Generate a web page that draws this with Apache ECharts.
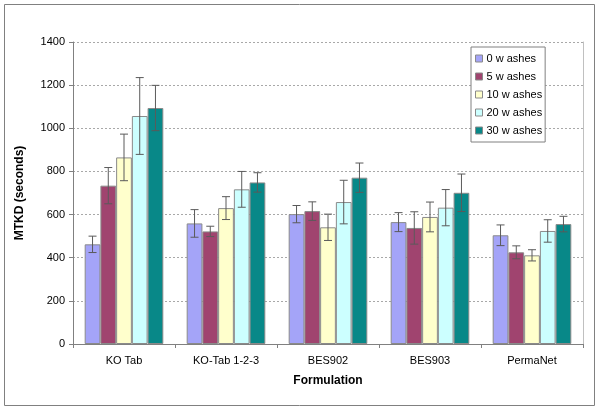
<!DOCTYPE html>
<html>
<head>
<meta charset="utf-8">
<script src="https://cdn.jsdelivr.net/npm/echarts@6/dist/echarts.min.js"></script>
<style>
html,body{margin:0;padding:0;background:#fff;}
#chart{width:600px;height:410px;}
</style>
</head>
<body>
<div id="chart"></div>
<script>
var categories = ['KO Tab', 'KO-Tab 1-2-3', 'BES902', 'BES903', 'PermaNet'];
var seriesNames = ['0 w ashes', '5 w ashes', '10 w ashes', '20 w ashes', '30 w ashes'];
var washes0  = [462, 559, 602, 565, 504];
var washes5  = [734, 522, 616, 538, 425];
var washes10 = [865, 630, 541, 589, 411];
var washes20 = [1057, 717, 658, 632, 524];
var washes30 = [1094, 749, 771, 701, 556];
var err0  = [38, 64, 40, 44, 48];
var err5  = [84, 24, 43, 75, 30];
var err10 = [108, 53, 61, 69, 26];
var err20 = [178, 83, 101, 84, 52];
var err30 = [105, 45, 68, 87, 36];
var yTicks = [0, 200, 400, 600, 800, 1000, 1200, 1400];

var values = [washes0, washes5, washes10, washes20, washes30];
var errors = [err0, err5, err10, err20, err30];
var colors = ['#a4a4f8', '#a0446f', '#ffffcc', '#ccffff', '#088888'];
var FONT = 'Liberation Sans, Arial, sans-serif';
var CAT_GAP = 0.229;

var chart = echarts.init(document.getElementById('chart'));

var series = [];
values.forEach(function (vals, i) {
  series.push({
    name: seriesNames[i],
    type: 'bar',
    data: vals,
    barGap: '0%',
    barCategoryGap: (CAT_GAP * 100) + '%',
    itemStyle: { color: colors[i], borderColor: '#8a8a8a', borderWidth: 1 },
    emphasis: { disabled: true },
    z: 2
  });
});
values.forEach(function (vals, i) {
  var data = vals.map(function (v, k) { return [k, v - errors[i][k], v + errors[i][k]]; });
  series.push({
    type: 'custom',
    name: seriesNames[i] + ' err',
    data: data,
    encode: { x: 0, y: [1, 2] },
    z: 5,
    silent: true,
    renderItem: function (params, api) {
      var cat = api.value(0);
      var lo = api.coord([cat, api.value(1)]);
      var hi = api.coord([cat, api.value(2)]);
      var catW = api.size([1, 0])[0];
      var bw = catW * (1 - CAT_GAP) / 5;
      var x = lo[0] + (i - 2) * bw;
      var cap = 4;
      var st = { stroke: '#5a5a5a', lineWidth: 1 };
      return {
        type: 'group',
        children: [
          { type: 'line', shape: { x1: x, y1: lo[1], x2: x, y2: hi[1] }, style: st },
          { type: 'line', shape: { x1: x - cap, y1: lo[1], x2: x + cap, y2: lo[1] }, style: st },
          { type: 'line', shape: { x1: x - cap, y1: hi[1], x2: x + cap, y2: hi[1] }, style: st }
        ]
      };
    }
  });
});

chart.setOption({
  animation: false,
  backgroundColor: '#ffffff',
  textStyle: { fontFamily: FONT },
  grid: { left: 73, right: 17, top: 42, bottom: 66, containLabel: false },
  legend: {
    data: seriesNames,
    orient: 'vertical',
    left: 471,
    top: 47,
    padding: [6, 3, 6, 4],
    itemWidth: 7,
    itemHeight: 7,
    itemGap: 7,
    backgroundColor: '#ffffff',
    borderColor: '#808080',
    borderWidth: 1,
    borderRadius: 0,
    icon: 'rect',
    textStyle: { fontFamily: FONT, fontSize: 11, color: '#000', padding: [0, 0, 0, -1] },
    itemStyle: { borderColor: '#8a8a8a', borderWidth: 1 }
  },
  xAxis: {
    type: 'category',
    data: categories,
    name: 'Formulation',
    nameLocation: 'middle',
    nameGap: 31,
    nameTextStyle: { fontFamily: FONT, fontSize: 12, fontWeight: 'bold', color: '#000' },
    axisLine: { lineStyle: { color: '#808080', width: 1 } },
    axisTick: { show: true, length: 4, lineStyle: { color: '#808080' } },
    axisLabel: { fontFamily: FONT, fontSize: 11, color: '#000', margin: 11 },
    splitLine: { show: false }
  },
  yAxis: [{
    type: 'value',
    min: yTicks[0],
    max: yTicks[yTicks.length - 1],
    interval: yTicks[1] - yTicks[0],
    name: 'MTKD (seconds)',
    nameLocation: 'middle',
    nameGap: 47,
    nameTextStyle: { fontFamily: FONT, fontSize: 12, fontWeight: 'bold', color: '#000' },
    axisLine: { show: true, lineStyle: { color: '#808080', width: 1 } },
    axisTick: { show: true, length: 4, lineStyle: { color: '#808080' } },
    axisLabel: { fontFamily: FONT, fontSize: 11, color: '#000', margin: 8,
      formatter: function (v) { return String(v); } },
    splitLine: { show: true, lineStyle: { color: '#a8a8a8', type: [2, 2], width: 1 } }
  }, {
    type: 'value',
    position: 'right',
    min: yTicks[0],
    max: yTicks[yTicks.length - 1],
    interval: yTicks[1] - yTicks[0],
    axisLine: { show: true, lineStyle: { color: '#c0c0c0', width: 1 } },
    axisTick: { show: false },
    axisLabel: { show: false },
    splitLine: { show: false }
  }],
  graphic: [{
    type: 'rect',
    shape: { x: 4.5, y: 4.5, width: 590, height: 401 },
    style: { fill: 'none', stroke: '#808080', lineWidth: 1 },
    silent: true,
    z: -1
  }],
  series: series
});
</script>
</body>
</html>
